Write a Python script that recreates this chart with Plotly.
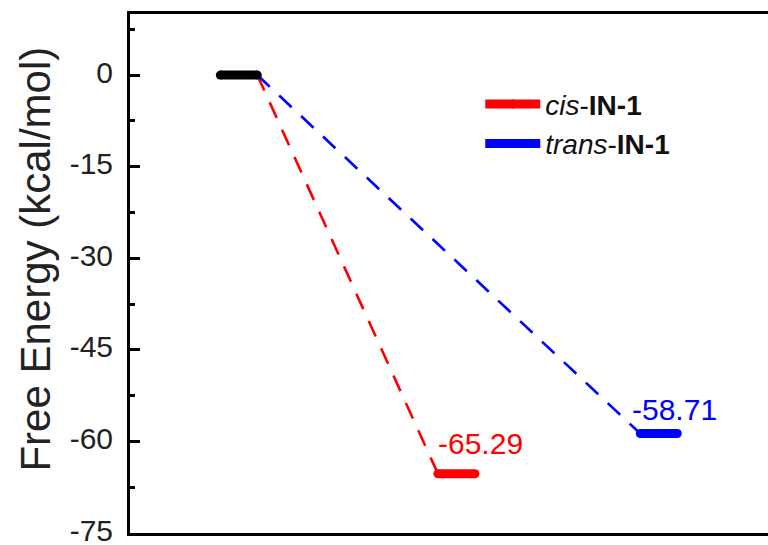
import plotly.graph_objects as go

# Reaction free-energy profile: reactant -> cis / trans intermediates
stage_names = ["Reactant", "cis-IN-1", "trans-IN-1"]
stage_x = [1.0, 2.0, 2.93]
free_energy = [0.0, -65.29, -58.71]
legend_names = ["", "<i>cis</i>-<b>IN-1</b>", "<i>trans</i>-<b>IN-1</b>"]
y_tick_vals = [0, -15, -30, -45, -60, -75]
y_tick_text = ["0", "-15", "-30", "-45", "-60", "-75"]

colors = ["black", "#ff0000", "#0000ff"]
half_w = 0.085
font_family = "Liberation Sans, Arial, sans-serif"

fig = go.Figure()

# dashed connectors from the reactant level to each intermediate
for i in (1, 2):
    fig.add_trace(go.Scatter(
        x=[stage_x[0] + half_w, stage_x[i] - half_w],
        y=[free_energy[0], free_energy[i]],
        mode="lines",
        line=dict(color=colors[i], width=2.6, dash="17px,13px"),
        showlegend=False, hoverinfo="skip",
    ))

# energy levels (markers at the ends give rounded caps)
for i in range(3):
    fig.add_trace(go.Scatter(
        x=[stage_x[i] - half_w, stage_x[i] + half_w],
        y=[free_energy[i], free_energy[i]],
        mode="lines+markers",
        line=dict(color=colors[i], width=9),
        marker=dict(color=colors[i], size=9),
        name=legend_names[i] or stage_names[i],
        showlegend=i > 0,
    ))

# value labels above the intermediate levels
label_yshift = [0, 30, 24]
label_xshift = [0, -2, -10]
for i in (1, 2):
    fig.add_annotation(
        x=stage_x[i] - half_w, y=free_energy[i],
        text=f"{free_energy[i]:.2f}",
        showarrow=False, xanchor="left", yanchor="middle",
        xshift=label_xshift[i], yshift=label_yshift[i],
        font=dict(family=font_family, size=30, color=colors[i]),
    )

# y-axis title
fig.add_annotation(
    xref="paper", yref="paper", x=-0.148, y=0.528,
    text="Free Energy (kcal/mol)", textangle=-90, showarrow=False,
    xanchor="center", yanchor="middle",
    font=dict(size=42, family=font_family, color="#222"),
)

fig.update_layout(
    width=768, height=545,
    margin=dict(l=130, r=0, t=14, b=12),
    paper_bgcolor="white", plot_bgcolor="white",
    font=dict(family=font_family, color="black"),
    legend=dict(
        x=0.549, y=0.874, xanchor="left", yanchor="top",
        font=dict(size=28, family=font_family, color="#111"),
        bgcolor="rgba(0,0,0,0)", itemwidth=55,
        tracegroupgap=0,
    ),
)

fig.update_xaxes(
    range=[0.5, 3.432], showgrid=False, zeroline=False,
    showticklabels=False, ticks="", automargin=False,
    showline=True, linecolor="black", linewidth=3, mirror=True,
)
fig.update_yaxes(
    range=[-75, 10], showgrid=False, zeroline=False, automargin=False,
    tickvals=y_tick_vals, ticktext=y_tick_text,
    ticks="inside", ticklen=10, tickwidth=2.5,
    tickcolor="black", ticklabelstandoff=8, ticklabeloverflow="allow",
    ticklabelshift=-3,
    minor=dict(dtick=7.5, tick0=0, ticks="inside", ticklen=5, tickwidth=2.5, tickcolor="black"),
    tickfont=dict(size=30, family=font_family, color="#222"),
    showline=True, linecolor="black", linewidth=3, mirror=False,
)

fig.write_html("out.html")
